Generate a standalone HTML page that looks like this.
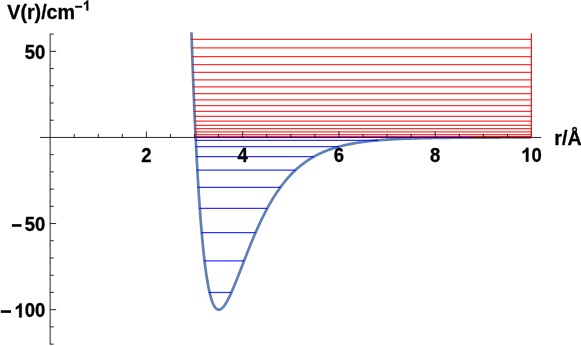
<!DOCTYPE html>
<html><head><meta charset="utf-8">
<style>
html,body{margin:0;padding:0;background:#fff;}
body{width:581px;height:346px;overflow:hidden;}
svg{display:block;will-change:transform;}
text{font-family:"Liberation Sans",sans-serif;font-weight:bold;fill:#000;stroke:#000;stroke-width:0.3px;stroke-linejoin:round;}
</style></head><body>
<svg width="581" height="346" viewBox="0 0 581 346">
<rect width="581" height="346" fill="#ffffff"/>
<polyline points="191.46,32.29 191.48,32.98 191.52,34.24 191.58,35.85 191.64,37.76 191.72,39.91 191.80,42.27 191.89,44.82 191.98,47.54 192.08,50.41 192.19,53.42 192.30,56.55 192.42,59.80 192.54,63.15 192.67,66.60 192.80,70.13 192.94,73.74 193.08,77.42 193.22,81.16 193.37,84.97 193.53,88.82 193.68,92.71 193.84,96.65 194.01,100.62 194.18,104.62 194.35,108.64 194.52,112.68 194.70,116.74 194.89,120.81 195.07,124.88 195.26,128.95 195.45,133.03 195.65,137.10 195.84,141.16 196.04,145.21 196.25,149.24 196.45,153.26 196.66,157.26 196.88,161.23 197.09,165.18 197.31,169.10 197.53,172.98 197.75,176.84 197.98,180.65 198.21,184.43 198.44,188.17 198.67,191.87 198.91,195.53 199.15,199.14 199.39,202.70 199.64,206.22 199.88,209.68 200.13,213.10 200.38,216.46 200.64,219.77 200.89,223.02 201.15,226.22 201.41,229.36 201.68,232.45 201.94,235.47 202.21,238.44 202.48,241.35 202.75,244.20 203.03,246.98 203.30,249.71 203.58,252.37 203.86,254.97 204.14,257.51 204.43,259.98 204.72,262.39 205.01,264.74 205.30,267.03 205.59,269.25 205.89,271.41 206.18,273.50 206.48,275.53 206.78,277.50 207.09,279.40 207.39,281.25 207.70,283.03 208.01,284.74 208.32,286.40 208.64,287.99 208.95,289.52 209.27,290.99 209.59,292.40 209.91,293.75 210.23,295.04 210.55,296.27 210.88,297.44 211.21,298.55 211.54,299.61 211.87,300.61 212.21,301.55 212.54,302.44 212.88,303.27 213.22,304.05 213.56,304.77 213.90,305.44 214.24,306.06 214.59,306.62 214.94,307.14 215.29,307.61 215.64,308.02 215.99,308.39 216.35,308.71 216.70,308.98 217.06,309.20 217.42,309.39 217.78,309.52 218.15,309.61 218.51,309.66 218.88,309.67 219.25,309.63 219.62,309.56 219.99,309.44 220.36,309.29 220.73,309.09 221.11,308.86 221.49,308.60 221.87,308.29 222.25,307.96 222.63,307.59 223.01,307.18 223.40,306.74 223.79,306.28 224.18,305.78 224.57,305.25 224.96,304.69 225.35,304.10 225.75,303.49 226.14,302.85 226.54,302.18 226.94,301.48 227.34,300.77 227.74,300.03 228.15,299.26 228.55,298.47 228.96,297.67 229.37,296.84 229.78,295.99 230.19,295.12 230.60,294.23 231.02,293.32 231.43,292.40 231.85,291.46 232.27,290.50 232.69,289.53 233.11,288.55 233.53,287.55 233.96,286.53 234.38,285.50 234.81,284.47 235.24,283.42 235.67,282.35 236.10,281.28 236.53,280.20 236.97,279.11 237.40,278.01 237.84,276.90 238.28,275.78 238.72,274.66 239.16,273.53 239.60,272.39 240.04,271.25 240.49,270.10 240.93,268.95 241.38,267.79 241.83,266.63 242.28,265.46 242.73,264.30 243.19,263.13 243.64,261.95 244.10,260.78 244.55,259.60 245.01,258.43 245.47,257.25 245.93,256.07 246.40,254.90 246.86,253.72 247.32,252.54 247.79,251.37 248.26,250.19 248.73,249.02 249.20,247.85 249.67,246.68 250.14,245.52 250.61,244.36 251.09,243.20 251.57,242.04 252.04,240.89 252.52,239.74 253.00,238.60 253.48,237.46 253.97,236.32 254.45,235.19 254.94,234.06 255.42,232.94 255.91,231.83 256.40,230.72 256.89,229.61 257.38,228.52 257.87,227.42 258.37,226.34 258.86,225.26 259.36,224.19 259.86,223.12 260.35,222.06 260.85,221.01 261.36,219.96 261.86,218.92 262.36,217.89 262.87,216.87 263.37,215.85 263.88,214.85 264.39,213.84 264.90,212.85 265.41,211.87 265.92,210.89 266.43,209.92 266.95,208.96 267.46,208.00 267.98,207.06 268.49,206.12 269.01,205.19 269.53,204.27 270.05,203.36 270.58,202.45 271.10,201.56 271.62,200.67 272.15,199.79 272.68,198.92 273.20,198.06 273.73,197.21 274.26,196.36 274.80,195.52 275.33,194.70 275.86,193.88 276.40,193.06 276.93,192.26 277.47,191.47 278.01,190.68 278.55,189.90 279.09,189.14 279.63,188.37 280.17,187.62 280.72,186.88 281.26,186.14 281.81,185.42 282.35,184.70 282.90,183.99 283.45,183.29 284.00,182.59 284.55,181.91 285.10,181.23 285.66,180.56 286.21,179.90 286.77,179.24 287.33,178.60 287.88,177.96 288.44,177.33 289.00,176.71 289.56,176.09 290.13,175.49 290.69,174.89 291.25,174.30 291.82,173.71 292.38,173.14 292.95,172.57 293.52,172.01 294.09,171.45 294.66,170.91 295.23,170.37 295.81,169.84 296.38,169.31 296.95,168.79 297.53,168.28 298.11,167.78 298.69,167.28 299.26,166.79 299.85,166.31 300.43,165.83 301.01,165.36 301.59,164.90 302.18,164.44 302.76,163.99 303.35,163.55 303.93,163.11 304.52,162.68 305.11,162.25 305.70,161.83 306.29,161.42 306.89,161.01 307.48,160.61 308.07,160.22 308.67,159.83 309.27,159.44 309.86,159.07 310.46,158.69 311.06,158.33 311.66,157.97 312.26,157.61 312.87,157.26 313.47,156.91 314.08,156.57 314.68,156.24 315.29,155.91 315.89,155.59 316.50,155.27 317.11,154.95 317.72,154.64 318.33,154.34 318.95,154.04 319.56,153.74 320.17,153.45 320.79,153.17 321.41,152.89 322.02,152.61 322.64,152.34 323.26,152.07 323.88,151.80 324.50,151.54 325.13,151.29 325.75,151.04 326.37,150.79 327.00,150.55 327.62,150.31 328.25,150.07 328.88,149.84 329.51,149.61 330.14,149.39 330.77,149.17 331.40,148.95 332.03,148.74 332.67,148.53 333.30,148.33 333.94,148.12 334.57,147.93 335.21,147.73 335.85,147.54 336.49,147.35 337.13,147.16 337.77,146.98 338.41,146.80 339.06,146.62 339.70,146.45 340.34,146.28 340.99,146.11 341.64,145.95 342.29,145.79 342.93,145.63 343.58,145.47 344.23,145.32 344.89,145.17 345.54,145.02 346.19,144.87 346.85,144.73 347.50,144.59 348.16,144.45 348.81,144.32 349.47,144.19 350.13,144.05 350.79,143.93 351.45,143.80 352.11,143.68 352.78,143.55 353.44,143.44 354.10,143.32 354.77,143.20 355.43,143.09 356.10,142.98 356.77,142.87 357.44,142.76 358.11,142.66 358.78,142.56 359.45,142.45 360.12,142.36 360.80,142.26 361.47,142.16 362.14,142.07 362.82,141.98 363.50,141.89 364.18,141.80 364.85,141.71 365.53,141.62 366.21,141.54 366.90,141.46 367.58,141.38 368.26,141.30 368.94,141.22 369.63,141.14 370.32,141.07 371.00,141.00 371.69,140.92 372.38,140.85 373.07,140.78 373.76,140.72 374.45,140.65 375.14,140.58 375.83,140.52 376.53,140.46 377.22,140.39 377.92,140.33 378.61,140.27 379.31,140.22 380.01,140.16 380.71,140.10 381.41,140.05 382.11,139.99 382.81,139.94 383.51,139.89 384.21,139.84 384.92,139.79 385.62,139.74 386.33,139.69 387.03,139.65 387.74,139.60 388.45,139.55 389.16,139.51 389.87,139.47 390.58,139.42 391.29,139.38 392.00,139.34 392.72,139.30 393.43,139.26 394.14,139.22 394.86,139.19 395.58,139.15 396.29,139.11 397.01,139.08 397.73,139.04 398.45,139.01 399.17,138.98 399.89,138.94 400.62,138.91 401.34,138.88 402.06,138.85 402.79,138.82 403.51,138.79 404.24,138.76 404.97,138.73 405.70,138.71 406.43,138.68 407.16,138.65 407.89,138.63 408.62,138.60 409.35,138.58 410.08,138.55 410.82,138.53 411.55,138.50 412.29,138.48 413.03,138.46 413.76,138.44 414.50,138.41 415.24,138.39 415.98,138.37 416.72,138.35 417.46,138.33 418.20,138.31 418.95,138.29 419.69,138.28 420.44,138.26 421.18,138.24 421.93,138.22 422.67,138.20 423.42,138.19 424.17,138.17 424.92,138.16 425.67,138.14 426.42,138.12 427.17,138.11 427.93,138.09 428.68,138.08 429.43,138.07 430.19,138.05 430.95,138.04 431.70,138.03 432.46,138.01 433.22,138.00 433.98,137.99 434.74,137.98 435.50,137.96 436.26,137.95 437.02,137.94 437.78,137.93 438.55,137.92 439.31,137.91 440.08,137.90 440.84,137.89 441.61,137.88 442.38,137.87 443.15,137.86 443.92,137.85 444.69,137.84 445.46,137.83 446.23,137.82 447.00,137.81 447.77,137.81 448.55,137.80 449.32,137.79 450.10,137.78 450.87,137.77 451.65,137.77 452.43,137.76 453.21,137.75 453.99,137.74 454.77,137.74 455.55,137.73 456.33,137.72 457.11,137.72 457.90,137.71 458.68,137.71 459.47,137.70 460.25,137.69 461.04,137.69 461.82,137.68 462.61,137.68 463.40,137.67 464.19,137.67 464.98,137.66 465.77,137.66 466.56,137.65 467.36,137.65 468.15,137.64 468.94,137.64 469.74,137.63 470.53,137.63 471.33,137.63 472.13,137.62 472.92,137.62 473.72,137.61 474.52,137.61 475.32,137.61 476.12,137.60 476.92,137.60 477.73,137.59 478.53,137.59 479.33,137.59 480.14,137.58 480.94,137.58 481.75,137.58 482.55,137.58 483.36,137.57 484.17,137.57 484.98,137.57 485.79,137.56 486.60,137.56 487.41,137.56 488.22,137.56 489.04,137.55 489.85,137.55 490.66,137.55 491.48,137.55 492.29,137.54 493.11,137.54 493.93,137.54 494.75,137.54 495.56,137.53 496.38,137.53 497.20,137.53 498.02,137.53 498.85,137.53 499.67,137.52 500.49,137.52 501.31,137.52 502.14,137.52 502.96,137.52 503.79,137.52 504.62,137.51 505.44,137.51 506.27,137.51 507.10,137.51 507.93,137.51 508.76,137.51 509.59,137.51 510.42,137.50 511.26,137.50 512.09,137.50 512.92,137.50 513.76,137.50 514.59,137.50 515.43,137.50 516.27,137.50 517.10,137.49 517.94,137.49 518.78,137.49 519.62,137.49 520.46,137.49 521.30,137.49 522.14,137.49 522.99,137.49 523.83,137.49 524.67,137.49 525.52,137.48 526.36,137.48 527.21,137.48 528.06,137.48 528.90,137.48 529.75,137.48 530.60,137.48 531.45,137.48" fill="none" stroke="#5e81b5" stroke-width="2.7" stroke-linejoin="round" stroke-linecap="butt"/>
<g fill="none" stroke-opacity="0.8">
<line x1="191.00" y1="39.3" x2="531.45" y2="39.3" stroke="#ff0000" stroke-width="1.25"/>
<line x1="191.30" y1="47.95" x2="531.45" y2="47.95" stroke="#ff0000" stroke-width="1.25"/>
<line x1="191.60" y1="56.5" x2="531.45" y2="56.5" stroke="#ff0000" stroke-width="1.25"/>
<line x1="191.89" y1="64.5" x2="531.45" y2="64.5" stroke="#ff0000" stroke-width="1.25"/>
<line x1="192.19" y1="72.4" x2="531.45" y2="72.4" stroke="#ff0000" stroke-width="1.25"/>
<line x1="192.47" y1="79.8" x2="531.45" y2="79.8" stroke="#ff0000" stroke-width="1.25"/>
<line x1="192.75" y1="86.9" x2="531.45" y2="86.9" stroke="#ff0000" stroke-width="1.25"/>
<line x1="193.02" y1="93.5" x2="531.45" y2="93.5" stroke="#ff0000" stroke-width="1.25"/>
<line x1="193.28" y1="99.85" x2="531.45" y2="99.85" stroke="#ff0000" stroke-width="1.25"/>
<line x1="193.52" y1="105.65" x2="531.45" y2="105.65" stroke="#ff0000" stroke-width="1.25"/>
<line x1="193.77" y1="111.35" x2="531.45" y2="111.35" stroke="#ff0000" stroke-width="1.25"/>
<line x1="193.99" y1="116.4" x2="531.45" y2="116.4" stroke="#ff0000" stroke-width="1.25"/>
<line x1="194.19" y1="121.0" x2="531.45" y2="121.0" stroke="#ff0000" stroke-width="1.25"/>
<line x1="194.39" y1="125.3" x2="531.45" y2="125.3" stroke="#ff0000" stroke-width="1.25"/>
<line x1="194.55" y1="128.7" x2="531.45" y2="128.7" stroke="#ff0000" stroke-width="1.25"/>
<line x1="194.70" y1="131.9" x2="531.45" y2="131.9" stroke="#ff0000" stroke-width="1.25"/>
<line x1="194.82" y1="134.5" x2="531.45" y2="134.5" stroke="#ff0000" stroke-width="1.25"/>
<line x1="194.92" y1="136.5" x2="531.45" y2="136.5" stroke="#ff0000" stroke-width="1.25"/>
<line x1="194.95" y1="137.3" x2="531.45" y2="137.3" stroke="#ff0000" stroke-width="1.25"/>
<line x1="208.90" y1="292.47" x2="231.40" y2="292.47" stroke="#0000ff" stroke-width="1.25"/>
<line x1="203.82" y1="260.78" x2="244.10" y2="260.78" stroke="#0000ff" stroke-width="1.25"/>
<line x1="201.00" y1="232.72" x2="255.52" y2="232.72" stroke="#0000ff" stroke-width="1.25"/>
<line x1="199.08" y1="208.27" x2="267.32" y2="208.27" stroke="#0000ff" stroke-width="1.25"/>
<line x1="197.69" y1="187.44" x2="280.30" y2="187.44" stroke="#0000ff" stroke-width="1.25"/>
<line x1="196.67" y1="170.23" x2="295.38" y2="170.23" stroke="#0000ff" stroke-width="1.25"/>
<line x1="195.93" y1="156.63" x2="313.98" y2="156.63" stroke="#0000ff" stroke-width="1.25"/>
<line x1="195.42" y1="146.66" x2="338.92" y2="146.66" stroke="#0000ff" stroke-width="1.25"/>
<line x1="195.10" y1="140.31" x2="378.19" y2="140.31" stroke="#0000ff" stroke-width="1.25"/>
</g>
<g stroke="#1a1a1a" stroke-width="0.95" fill="none">
<line x1="40" y1="137.45" x2="541.3" y2="137.45"/>
<line x1="50.15" y1="33.62" x2="50.15" y2="344.61"/>
<line x1="74.22" y1="137.45" x2="74.22" y2="133.85"/>
<line x1="98.28" y1="137.45" x2="98.28" y2="133.85"/>
<line x1="122.34" y1="137.45" x2="122.34" y2="133.85"/>
<line x1="146.41" y1="137.45" x2="146.41" y2="131.45"/>
<line x1="170.47" y1="137.45" x2="170.47" y2="133.85"/>
<line x1="194.54" y1="137.45" x2="194.54" y2="133.85"/>
<line x1="218.61" y1="137.45" x2="218.61" y2="133.85"/>
<line x1="242.67" y1="137.45" x2="242.67" y2="131.45"/>
<line x1="266.74" y1="137.45" x2="266.74" y2="133.85"/>
<line x1="290.80" y1="137.45" x2="290.80" y2="133.85"/>
<line x1="314.87" y1="137.45" x2="314.87" y2="133.85"/>
<line x1="338.93" y1="137.45" x2="338.93" y2="131.45"/>
<line x1="363.00" y1="137.45" x2="363.00" y2="133.85"/>
<line x1="387.06" y1="137.45" x2="387.06" y2="133.85"/>
<line x1="411.12" y1="137.45" x2="411.12" y2="133.85"/>
<line x1="435.19" y1="137.45" x2="435.19" y2="131.45"/>
<line x1="459.25" y1="137.45" x2="459.25" y2="133.85"/>
<line x1="483.32" y1="137.45" x2="483.32" y2="133.85"/>
<line x1="507.38" y1="137.45" x2="507.38" y2="133.85"/>
<line x1="531.45" y1="137.45" x2="531.45" y2="131.45"/>
<line x1="50.15" y1="344.11" x2="53.75" y2="344.11"/>
<line x1="50.15" y1="326.89" x2="53.75" y2="326.89"/>
<line x1="50.15" y1="309.67" x2="56.15" y2="309.67"/>
<line x1="50.15" y1="292.45" x2="53.75" y2="292.45"/>
<line x1="50.15" y1="275.23" x2="53.75" y2="275.23"/>
<line x1="50.15" y1="258.00" x2="53.75" y2="258.00"/>
<line x1="50.15" y1="240.78" x2="53.75" y2="240.78"/>
<line x1="50.15" y1="223.56" x2="56.15" y2="223.56"/>
<line x1="50.15" y1="206.34" x2="53.75" y2="206.34"/>
<line x1="50.15" y1="189.12" x2="53.75" y2="189.12"/>
<line x1="50.15" y1="171.89" x2="53.75" y2="171.89"/>
<line x1="50.15" y1="154.67" x2="53.75" y2="154.67"/>
<line x1="50.15" y1="120.23" x2="53.75" y2="120.23"/>
<line x1="50.15" y1="103.01" x2="53.75" y2="103.01"/>
<line x1="50.15" y1="85.78" x2="53.75" y2="85.78"/>
<line x1="50.15" y1="68.56" x2="53.75" y2="68.56"/>
<line x1="50.15" y1="51.34" x2="56.15" y2="51.34"/>
<line x1="50.15" y1="34.12" x2="53.75" y2="34.12"/>
</g>
<line x1="531.40" y1="33.3" x2="531.40" y2="138" stroke="#ff0000" stroke-opacity="0.9" stroke-width="1.25"/>
<line x1="195.50" y1="137.5" x2="473" y2="137.5" stroke="#0000ff" stroke-opacity="0.7" stroke-width="1"/>
<g font-size="19.4">
<text transform="translate(146.41 161.65) scale(0.955 1)" text-anchor="middle">2</text>
<text transform="translate(242.67 161.65) scale(0.955 1)" text-anchor="middle">4</text>
<text transform="translate(338.93 161.65) scale(0.955 1)" text-anchor="middle">6</text>
<text transform="translate(435.19 161.65) scale(0.955 1)" text-anchor="middle">8</text>
<text transform="translate(531.45 161.65) scale(0.955 1)">0</text>
<text transform="translate(45.3 59.14) scale(0.955 1)" text-anchor="end">50</text>
<text transform="translate(45.3 231.36) scale(0.955 1)" text-anchor="end">50</text>
<text transform="translate(45.3 317.47) scale(0.955 1)" text-anchor="end">00</text>
</g>
<path d="M393.6,0 L256.3,0 L256.3,517 Q181,446.8 79,413 L79,537.6 Q132.8,555 195.8,604 Q258.8,653 282,718.75 L393.6,718.75 Z" transform="translate(521.15 161.65) scale(0.01853 -0.01940)" fill="#000" stroke="#000" stroke-width="15.5" stroke-linejoin="round"/>
<rect x="11.9" y="224.16" width="9.60" height="2.6" fill="#000"/>
<path d="M393.6,0 L256.3,0 L256.3,517 Q181,446.8 79,413 L79,537.6 Q132.8,555 195.8,604 Q258.8,653 282,718.75 L393.6,718.75 Z" transform="translate(14.40 317.47) scale(0.01853 -0.01940)" fill="#000" stroke="#000" stroke-width="15.5" stroke-linejoin="round"/>
<rect x="0.8" y="310.27" width="10.20" height="2.6" fill="#000"/>
<rect x="75.1" y="5.80" width="7.1" height="1.9" fill="#000"/>
<path d="M393.6,0 L256.3,0 L256.3,517 Q181,446.8 79,413 L79,537.6 Q132.8,555 195.8,604 Q258.8,653 282,718.75 L393.6,718.75 Z" transform="translate(82.90 10.50) scale(0.01357 -0.01380)" fill="#000" stroke="#000" stroke-width="21.7" stroke-linejoin="round"/>
<text transform="translate(7.3 19.3) scale(0.983 1)" font-size="20">V(r)/cm</text>
<text transform="translate(554.3 145.0) scale(0.983 1)" font-size="20">r/Å</text>
</svg>
</body></html>
